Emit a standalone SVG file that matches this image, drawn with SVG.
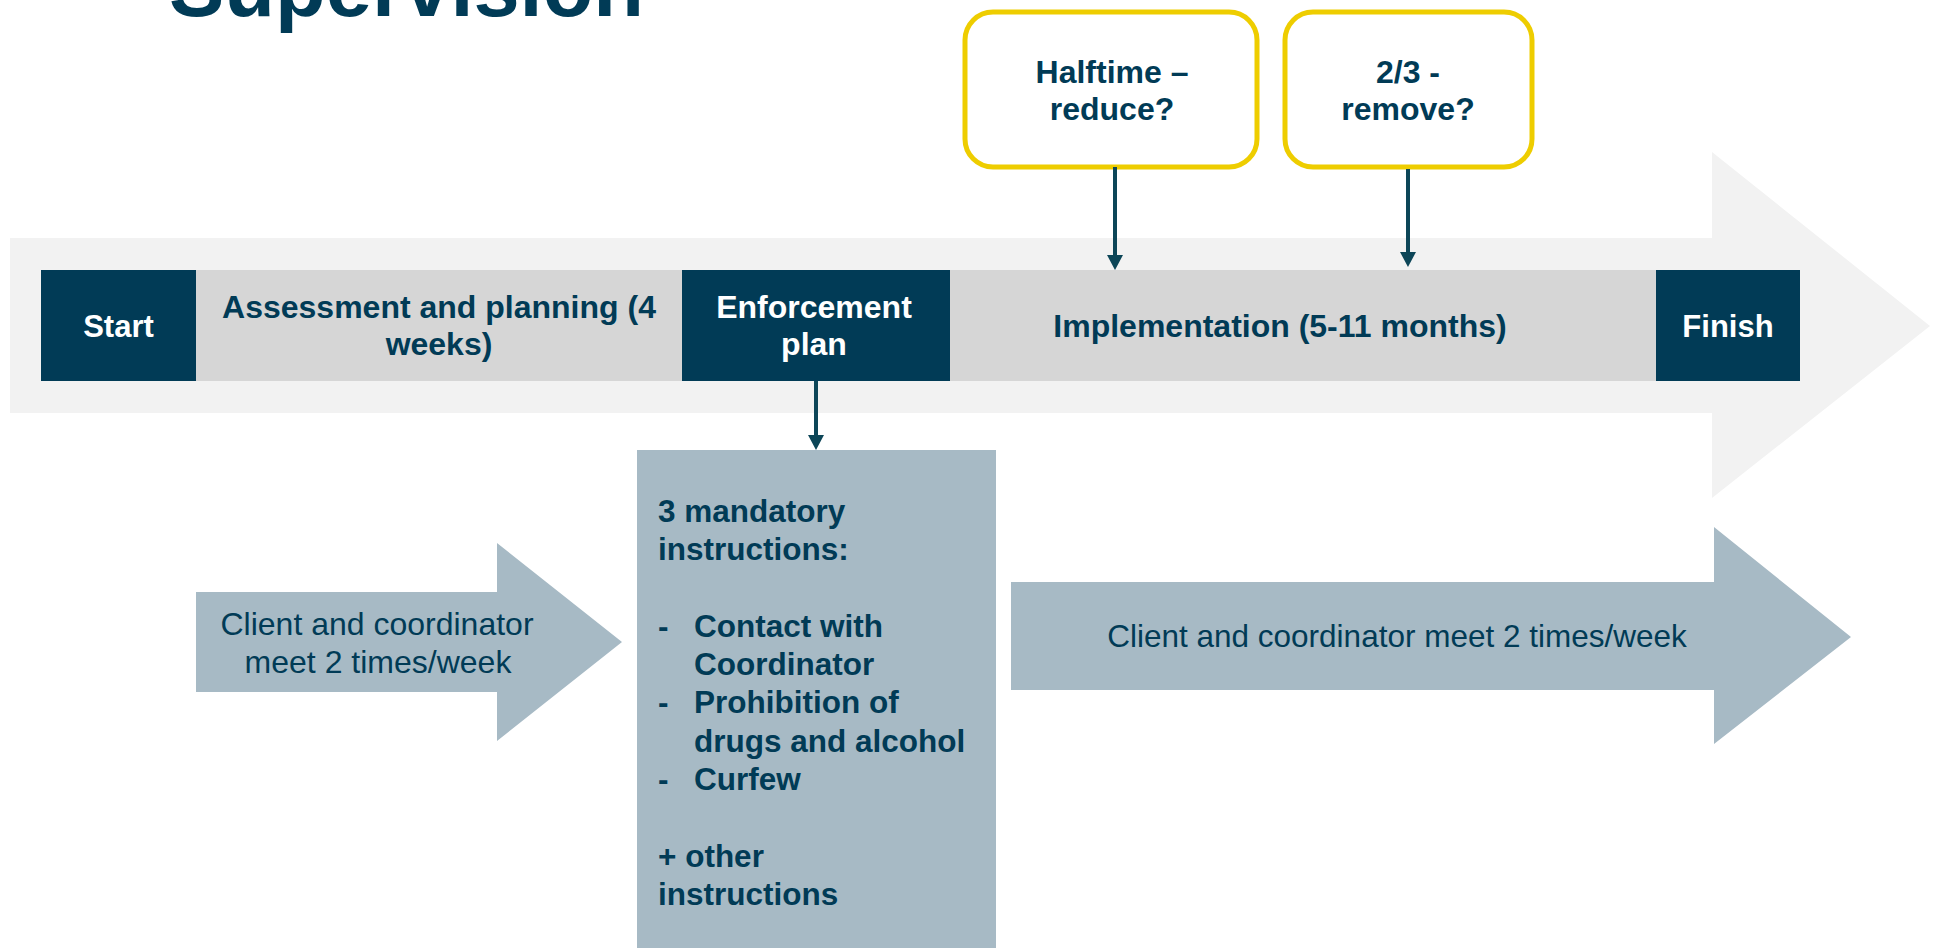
<svg xmlns="http://www.w3.org/2000/svg" width="1935" height="948" viewBox="0 0 1935 948">
<style>
.b{font-family:"Liberation Sans",Arial,sans-serif;font-weight:bold;fill:#013b56;}
.r{font-family:"Liberation Sans",Arial,sans-serif;fill:#013b56;}
.w{fill:#ffffff;}
.dark{fill:#013b56;}
.gray{fill:#d6d6d6;}
.bg{fill:#a7bac5;}
.yb{fill:#ffffff;stroke:#eecd00;stroke-width:5;}
.conn{stroke:#0d4658;stroke-width:4;fill:none;}
.head{fill:#0d4658;}
</style>

<text class="b" x="169" y="16" font-size="83">Supervision</text>

<g id="timeline-arrow">
<path d="M10,238 L1712,238 L1712,152 L1930,326 L1712,498 L1712,413 L10,413 Z" fill="#f2f2f2"/>
</g>

<g id="start">
<rect class="dark" x="41" y="270" width="155" height="111"/>
<text class="b w" x="118.5" y="337" font-size="31" text-anchor="middle">Start</text>
</g>
<g id="assessment">
<rect class="gray" x="196" y="270" width="486" height="111"/>
<text class="b" x="439" y="318" font-size="32" text-anchor="middle">Assessment and planning (4</text>
<text class="b" x="439" y="355" font-size="32" text-anchor="middle">weeks)</text>
</g>
<g id="enforcement">
<rect class="dark" x="682" y="270" width="268" height="111"/>
<text class="b w" x="814" y="318" font-size="32" text-anchor="middle">Enforcement</text>
<text class="b w" x="814" y="355" font-size="32" text-anchor="middle">plan</text>
</g>
<g id="implementation">
<rect class="gray" x="950" y="270" width="706" height="111"/>
<text class="b" x="1280" y="337" font-size="32" text-anchor="middle">Implementation (5-11 months)</text>
</g>
<g id="finish">
<rect class="dark" x="1656" y="270" width="144" height="111"/>
<text class="b w" x="1728" y="337" font-size="31" text-anchor="middle">Finish</text>
</g>

<g id="halftime">
<rect class="yb" x="965" y="12" width="292" height="155" rx="28"/>
<text class="b" x="1112" y="83" font-size="32" text-anchor="middle">Halftime –</text>
<text class="b" x="1112" y="120" font-size="32" text-anchor="middle">reduce?</text>
</g>
<g id="twothirds">
<rect class="yb" x="1285" y="12" width="247" height="155" rx="28"/>
<text class="b" x="1408" y="83" font-size="32" text-anchor="middle">2/3 -</text>
<text class="b" x="1408" y="120" font-size="32" text-anchor="middle">remove?</text>
</g>

<g id="instructions">
<rect class="bg" x="637" y="450" width="359" height="498"/>
<text class="b" font-size="31.5">
<tspan x="658" y="522">3 mandatory</tspan>
<tspan x="658" y="560">instructions:</tspan>
<tspan x="658" y="637">-</tspan>
<tspan x="694" y="637">Contact with</tspan>
<tspan x="694" y="675">Coordinator</tspan>
<tspan x="658" y="713">-</tspan>
<tspan x="694" y="713">Prohibition of</tspan>
<tspan x="694" y="752">drugs and alcohol</tspan>
<tspan x="658" y="790">-</tspan>
<tspan x="694" y="790">Curfew</tspan>
<tspan x="658" y="867">+ other</tspan>
<tspan x="658" y="905">instructions</tspan>
</text>
</g>

<g id="meet-before">
<path class="bg" d="M196,592 L497,592 L497,543 L622,642 L497,741 L497,692 L196,692 Z"/>
<text class="r" x="377" y="635" font-size="32" text-anchor="middle">Client and coordinator</text>
<text class="r" x="378" y="673" font-size="32" text-anchor="middle">meet 2 times/week</text>
</g>
<g id="meet-after">
<path class="bg" d="M1011,582 L1714,582 L1714,527 L1851,637 L1714,744 L1714,690 L1011,690 Z"/>
<text class="r" x="1397" y="647" font-size="31.5" text-anchor="middle">Client and coordinator meet 2 times/week</text>
</g>

<g id="connectors">
<line class="conn" x1="1115" y1="167" x2="1115" y2="256"/>
<path class="head" d="M1107,255 L1123,255 L1115,270 Z"/>
<line class="conn" x1="1408" y1="169" x2="1408" y2="253"/>
<path class="head" d="M1400,252 L1416,252 L1408,267 Z"/>
<line class="conn" x1="816" y1="381" x2="816" y2="436"/>
<path class="head" d="M808,435 L824,435 L816,450 Z"/>
</g>
</svg>
